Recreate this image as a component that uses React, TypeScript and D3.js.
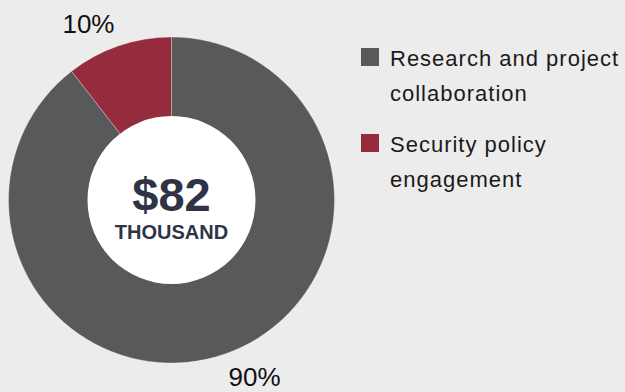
import React, { Component } from 'react';
import * as d3 from 'd3';

const categories = ['Research and project collaboration', 'Security policy engagement'];
const legendLines = [['Research and project', 'collaboration'], ['Security policy', 'engagement']];
const shares = [89.5, 10.5];
const shareLabels = ['90%', '10%'];
const colors = ['#58595b', '#952c3d'];
const centerValue = '$82';
const centerUnit = 'THOUSAND';

const W = 625;
const H = 392;

interface Props { }

class DonutChart extends Component<Props> {
  svgRef = React.createRef<SVGSVGElement>();

  componentDidMount() {
    this.drawChart();
  }

  drawChart() {
    const svg = d3.select(this.svgRef.current);
    svg.selectAll('*').remove();

    svg.append('rect').attr('width', W).attr('height', H).attr('fill', '#ececec');

    const cx = 171.5;
    const cy = 200;
    const outer = 163;
    const inner = 83;

    const pie = d3.pie<number>().sort(null).value(d => d);
    const arcs = pie(shares);
    const arc = d3.arc<d3.PieArcDatum<number>>().innerRadius(inner).outerRadius(outer);

    const g = svg.append('g').attr('transform', `translate(${cx},${cy})`);

    g.selectAll('path')
      .data(arcs)
      .enter()
      .append('path')
      .attr('d', arc)
      .attr('fill', (d, i) => colors[i])
      .attr('stroke', 'rgba(255,255,255,0.5)')
      .attr('stroke-width', 0.6);

    g.append('circle').attr('r', inner + 1).attr('fill', '#ffffff');

    // percentage labels, a little outside the ring
    g.selectAll('text.pct')
      .data(arcs)
      .enter()
      .append('text')
      .attr('class', 'pct')
      .attr('transform', d => {
        const mid = (d.startAngle + d.endAngle) / 2 - 0.11;
        const [x, y] = d3.pointRadial(mid, 195);
        return `translate(${x},${y})`;
      })
      .attr('text-anchor', 'middle')
      .attr('dy', '0.36em')
      .attr('font-family', 'Liberation Sans, Arial, sans-serif')
      .attr('font-size', 26)
      .attr('fill', '#111')
      .text((d, i) => shareLabels[i]);

    g.append('text')
      .attr('y', 11)
      .attr('text-anchor', 'middle')
      .attr('font-family', 'Liberation Sans, Arial, sans-serif')
      .attr('font-weight', 'bold')
      .attr('font-size', 47)
      .attr('fill', '#2e3446')
      .text(centerValue);

    g.append('text')
      .attr('y', 39)
      .attr('text-anchor', 'middle')
      .attr('font-family', 'Liberation Sans, Arial, sans-serif')
      .attr('font-weight', 'bold')
      .attr('font-size', 20)
      .attr('fill', '#2e3446')
      .text(centerUnit);

    // legend
    const legend = svg.append('g').attr('transform', 'translate(361,48)');
    const item = legend.selectAll('g')
      .data(categories)
      .enter()
      .append('g')
      .attr('transform', (d, i) => `translate(0,${i * 86})`);

    item.append('rect')
      .attr('width', 18)
      .attr('height', 18)
      .attr('fill', (d, i) => colors[i]);

    item.selectAll('text')
      .data((d, i) => legendLines[i])
      .enter()
      .append('text')
      .attr('x', 29)
      .attr('y', (d, j) => 17.5 + j * 35)
      .attr('font-family', 'Liberation Sans, Arial, sans-serif')
      .attr('font-size', 22)
      .attr('letter-spacing', 1)
      .attr('fill', '#1a1a1a')
      .text(d => d);
  }

  render() {
    return (
      <svg
        ref={this.svgRef}
        width={W}
        height={H}
        style={{ position: 'absolute', left: 0, top: 0, display: 'block' }}
      />
    );
  }
}

export default function App() {
  return <DonutChart />;
}
